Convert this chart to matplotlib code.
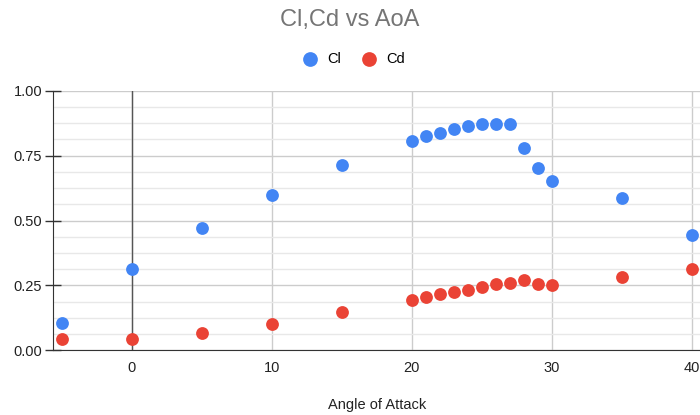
import numpy as np
import matplotlib
matplotlib.use('Agg')
import matplotlib.pyplot as plt
from matplotlib.ticker import MultipleLocator, FormatStrFormatter

plt.rcParams['font.family'] = ['Liberation Sans', 'DejaVu Sans']

# angle of attack and coefficients
aoa = [-5, 0, 5, 10, 15, 20, 21, 22, 23, 24, 25, 26, 27, 28, 29, 30, 35, 40]
cl = [0.106, 0.314, 0.472, 0.599, 0.714, 0.807, 0.825, 0.837, 0.851, 0.864,
      0.872, 0.872, 0.872, 0.779, 0.703, 0.652, 0.588, 0.444]
cd = [0.045, 0.044, 0.068, 0.102, 0.147, 0.194, 0.204, 0.216, 0.225, 0.234,
      0.244, 0.254, 0.260, 0.271, 0.257, 0.250, 0.281, 0.314]

blue = '#4285F4'
red = '#EA4335'

fig = plt.figure(figsize=(7, 4.15), dpi=100)
ax = fig.add_axes([53.3/700, 1-350.3/415, (700-53.3)/700, (350.3-90.7)/415])

ax.scatter(aoa, cl, s=85, color=blue, label='Cl', zorder=4, linewidths=0)
ax.scatter(aoa, cd, s=85, color=red, label='Cd', zorder=4, linewidths=0)

ax.set_xlim(-5.6, 40.6)
ax.set_ylim(0, 1.0)
ax.xaxis.set_major_locator(MultipleLocator(10))
ax.yaxis.set_major_locator(MultipleLocator(0.25))
ax.yaxis.set_minor_locator(MultipleLocator(0.0625))
ax.yaxis.set_major_formatter(FormatStrFormatter('%.2f'))

ax.grid(True, which='major', color='#cccccc', linewidth=1)
ax.grid(True, which='minor', axis='y', color='#e8e8e8', linewidth=1)
ax.axvline(0, color='#555555', linewidth=1, zorder=2)
ax.set_axisbelow(True)

for s in ['top', 'right']:
    ax.spines[s].set_visible(False)
ax.spines['left'].set_color('#333333')
ax.spines['bottom'].set_color('#333333')
ax.tick_params(axis='y', which='major', direction='inout', length=12, width=1,
               color='#333333', labelsize=10.5, labelcolor='#222222', pad=2)
ax.tick_params(axis='y', which='minor', length=0)
ax.tick_params(axis='x', length=0, labelsize=10.5, labelcolor='#222222', pad=8)

fig.text(377/700, 1-405/415, 'Angle of Attack', ha='center', va='center',
         fontsize=10.5, color='#222222')
fig.text(0.5, 1-20/415, 'Cl,Cd vs AoA', ha='center', va='center',
         fontsize=17, color='#757575')
leg = fig.legend(loc='center', bbox_to_anchor=(0.5, 1-59/415), ncol=2, frameon=False,
                 fontsize=10.5, handletextpad=0.2, columnspacing=0.9, markerscale=1.15)

fig.savefig('out.png', dpi=100)
